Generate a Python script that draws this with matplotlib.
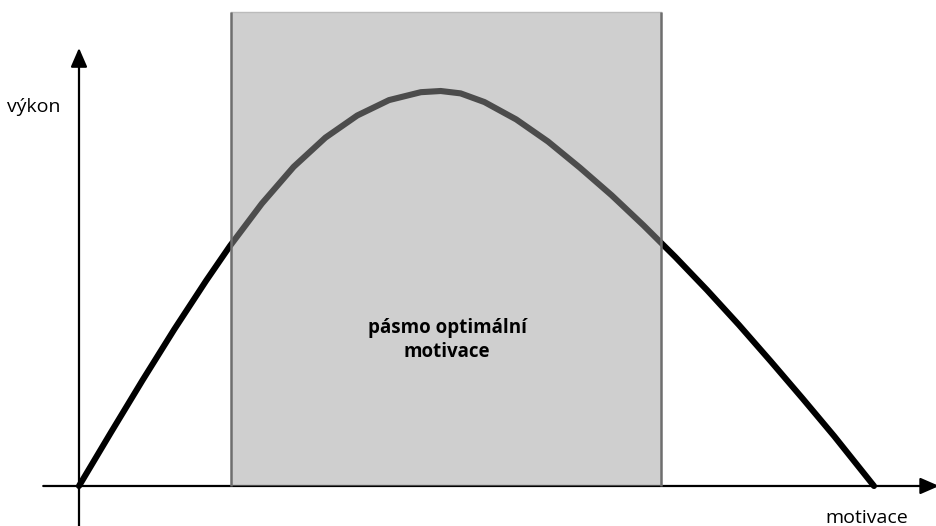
import matplotlib
matplotlib.use("Agg")
import matplotlib.pyplot as plt

# --------------------------------------------------------------------------- #
# Data (motivation 0..10, performance 0..1)
# --------------------------------------------------------------------------- #

MOTIVATION = [0.0, 0.4, 0.8, 1.2, 1.6, 1.9, 2.3, 2.7, 3.1, 3.5, 3.9, 4.3,
              4.55, 4.8, 5.1, 5.5, 5.9, 6.3, 6.7, 7.1, 7.5, 7.9, 8.3, 8.7,
              9.1, 9.5, 10.0]
PERFORMANCE = [0.0, 0.135, 0.268, 0.397, 0.520, 0.608, 0.715, 0.808, 0.882,
               0.938, 0.977, 0.997, 1.0, 0.994, 0.972, 0.928, 0.872, 0.806,
               0.736, 0.660, 0.580, 0.496, 0.408, 0.316, 0.222, 0.126, 0.0]

BAND = (1.91, 7.32)      # optimal motivation zone
BAND_TOP = 1.2

X_LABEL = "motivace"
Y_LABEL = "výkon"
BAND_LABEL = "pásmo optimální\nmotivace"

FONT = ["Open Sans", "DejaVu Sans"]

# --------------------------------------------------------------------------- #
# Figure
# --------------------------------------------------------------------------- #

fig = plt.figure(figsize=(9.36, 5.26), dpi=100)
ax = fig.add_axes([0, 0, 1, 1])
ax.set_xlim(-0.9937, 10.78)
ax.set_ylim(-0.1013, 1.2304)
ax.axis("off")

arrow = dict(arrowstyle="-|>,head_length=1.15,head_width=0.5",
             lw=1.6, color="black", shrinkA=0, shrinkB=0)

# axes with arrow heads
ax.annotate("", xy=(10.82, 0), xytext=(-0.45, 0), arrowprops=arrow,
            annotation_clip=False, zorder=1)
ax.annotate("", xy=(0, 1.109), xytext=(0, -0.11), arrowprops=arrow,
            annotation_clip=False, zorder=1)

# curve
ax.plot(MOTIVATION, PERFORMANCE, color="black", lw=4.4,
        solid_capstyle="round", solid_joinstyle="round", zorder=2)

# translucent band on top of the curve
ax.fill_between(BAND, 0, BAND_TOP, facecolor="#9d9d9d", alpha=0.49,
                edgecolor="none", zorder=3)
ax.plot([BAND[0], BAND[1]], [BAND_TOP, BAND_TOP], color="#bbbbbb", lw=1.0, zorder=4)
ax.vlines(BAND, 0, BAND_TOP, colors="#6e6e6e", lw=1.8, zorder=4)

# texts
ax.text(-0.9, 0.96, Y_LABEL, fontsize=14, family=FONT, ha="left", va="center")
ax.text(9.91, -0.081, X_LABEL, fontsize=14, family=FONT, ha="center", va="center")
ax.text(4.63, 0.37, BAND_LABEL, fontsize=13.5, family=FONT, fontweight="bold",
        ha="center", va="center", linespacing=1.25, zorder=5)

fig.savefig("out.png", dpi=100)
